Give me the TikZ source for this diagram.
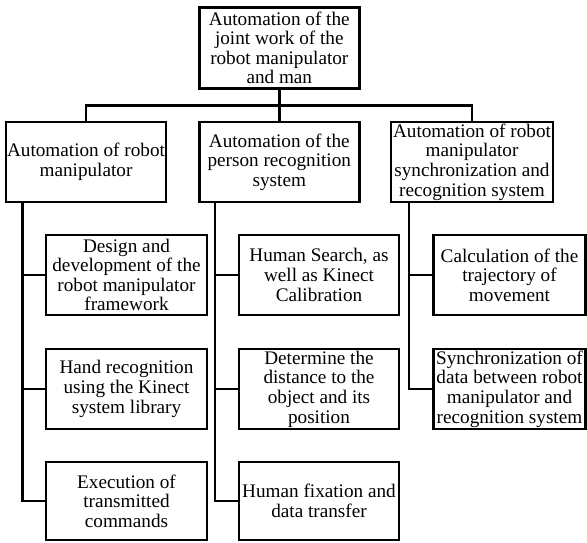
\documentclass[tikz,border=0pt]{standalone}
\usepackage{fontspec}
\setmainfont{Liberation Serif}
\usetikzlibrary{positioning, calc}

\tikzset{
  box/.style={rectangle, draw=black, line width=2.6pt, inner sep=0.5pt, align=center,
    font=\fontsize{19.2}{19.6}\selectfont},
  link/.style={line width=2.6pt, line cap=rect}
}

\begin{document}
\begin{tikzpicture}[x=1pt, y=-1pt]
  \useasboundingbox (0,0) rectangle (587,542);

  % top of the tree
  \node[box, minimum width=160pt, minimum height=81pt] (top) at (279.3,47.8)
    {Automation of the\\joint work of the\\robot manipulator\\and man};

  % second level
  \node[box, minimum width=160pt, minimum height=80pt] (robot) at (86,162)
    {Automation of robot\\manipulator};
  \node[box, minimum width=160pt, minimum height=80pt] (person) at (279.3,162)
    {Automation of the\\person recognition\\system};
  \node[box, minimum width=162pt, minimum height=80pt] (sync) at (472,162)
    {Automation of robot\\manipulator\\synchronization and\\recognition system};

  % tasks of each branch
  \node[box, minimum width=161pt, minimum height=80pt] (design) at (126.5,275)
    {Design and\\development of the\\robot manipulator\\framework};
  \node[box, minimum width=161pt, minimum height=80pt] (hand) at (126.5,389)
    {Hand recognition\\using the Kinect\\system library};
  \node[box, minimum width=161pt, minimum height=78pt] (exec) at (126.5,501)
    {Execution of\\transmitted\\commands};

  \node[box, minimum width=160pt, minimum height=80pt] (search) at (319,275)
    {Human Search, as\\well as Kinect\\Calibration};
  \node[box, minimum width=160pt, minimum height=80pt] (dist) at (319,389)
    {Determine the\\distance to the\\object and its\\position};
  \node[box, minimum width=160pt, minimum height=78pt] (fix) at (319,501)
    {Human fixation and\\data transfer};

  \node[box, minimum width=152pt, minimum height=80pt] (traj) at (509.5,275)
    {Calculation of the\\trajectory of\\movement};
  \node[box, minimum width=152pt, minimum height=80pt] (data) at (509.5,389)
    {Synchronization of\\data between robot\\manipulator and\\recognition system};

  % connectors
  \coordinate (bus) at (279.3,105.3);
  \draw[link] (top.south) -- (bus);
  \draw[link] (bus) -| (robot.north);
  \draw[link] (bus) -| (sync.north);
  \draw[link] (bus) -- (person.north);

  \coordinate (ta) at (22.7,0);
  \coordinate (tb) at (215,0);
  \coordinate (tc) at (409,0);
  \draw[link] (robot.south -| ta) |- (exec.west);
  \draw[link] (person.south -| tb) |- (fix.west);
  \draw[link] (sync.south -| tc) |- (data.west);
  \foreach \t/\n in {ta/design, ta/hand, tb/search, tb/dist, tc/traj}
    \draw[link] (\n.west -| \t) -- (\n.west);
\end{tikzpicture}
\end{document}
